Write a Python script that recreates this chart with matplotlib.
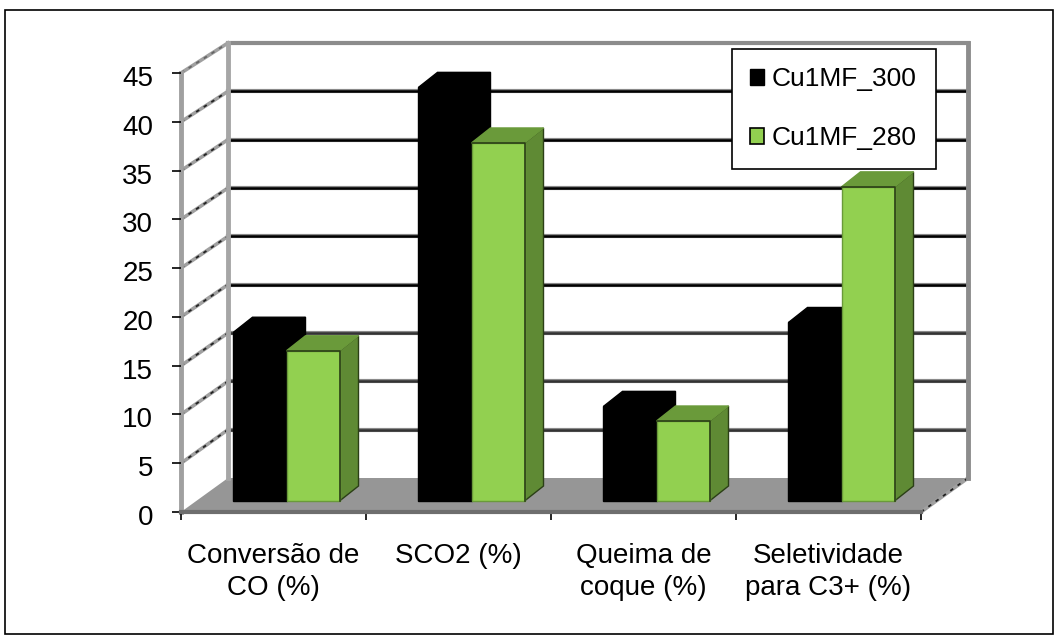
import numpy as np
import matplotlib
matplotlib.use("Agg")
import matplotlib.pyplot as plt
from matplotlib.patches import Polygon, Rectangle, Patch
from matplotlib.transforms import Affine2D, IdentityTransform

plt.rcParams['font.family'] = ['Liberation Sans', 'DejaVu Sans']

categories = ['Conversão de\nCO (%)', 'SCO2 (%)', 'Queima de\ncoque (%)', 'Seletividade\npara C3+ (%)']
series_names = ['Cu1MF_300', 'Cu1MF_280']
cu1mf_300 = [17.3, 42.4, 9.7, 18.3]
cu1mf_280 = [15.4, 36.7, 8.2, 32.2]
y_ticks = [0, 5, 10, 15, 20, 25, 30, 35, 40, 45]

W, H = 1059, 644
WALL = (47, 34)         # pixel shift of back wall from front plane
WALL_SCALE = 0.991      # back wall is a little shorter than the front plane
BAR_FRONT = (13, 11)
BAR_BACK = (32, 26)
BAR_W = 0.2865

GREEN = '#92D050'
GREEN_TOP = '#6A9A3A'
GREEN_SIDE = '#5F8A34'
GREEN_EDGE = '#2B3F16'
GRAY = '#969696'

fig = plt.figure(figsize=(W / 100, H / 100), dpi=100)
fig.add_artist(Rectangle((5 / W, 1 - 634 / H), 1048 / W, 624 / H, fill=False, ec='black', lw=1.2))

ax = fig.add_axes([181 / W, 1 - 512 / H, 740 / W, 439 / H])
ax.set_xlim(0, 4)
ax.set_ylim(0, 45)
ax.set_autoscale_on(False)
ax.patch.set_visible(False)
for s in ['top', 'right', 'left', 'bottom']:
    ax.spines[s].set_visible(False)


def shift(off):
    return ax.transData + Affine2D().translate(*off)


def px(x, y, off=(0, 0)):
    return ax.transData.transform((x, y)) + np.array(off)


def face(points, **kw):
    ax.add_patch(Polygon(points, closed=True, transform=IdentityTransform(), clip_on=False, **kw))


def slant(x, v, dashed_color='#222222'):
    a = ax.transData.transform((x, v))
    b = wall.transform((x, v))
    ax.plot([a[0], b[0]], [a[1], b[1]], color='#a0a0a0', lw=2.6, transform=IdentityTransform(),
            clip_on=False, zorder=1)
    ax.plot([a[0], b[0]], [a[1], b[1]], color=dashed_color, lw=1.3, ls=(0, (2, 3)),
            transform=IdentityTransform(), clip_on=False, zorder=1.1)


y0 = ax.transData.transform((0, 0))[1]
wall = ax.transData + Affine2D().translate(0, -y0).scale(1, WALL_SCALE).translate(WALL[0], y0 + WALL[1])

# floor
face([px(0, 0), px(4, 0), px(4, 0, WALL), px(0, 0, WALL)], fc=GRAY, ec='none', zorder=1)

# back wall grid
for v in y_ticks[1:-1]:
    col = '#333333' if v <= 15 else 'black'
    ax.plot([0, 4], [v, v], color='#8a8a8a', lw=3, transform=wall, clip_on=False, zorder=1)
    ax.plot([0, 4], [v, v], color=col, lw=1.8, transform=wall, clip_on=False, zorder=1.1)
ax.plot([0, 4], [45, 45], color='#8c8c8c', lw=3, transform=wall, clip_on=False, zorder=1)
ax.plot([0, 0], [0, 45], color='#a6a6a6', lw=3.5, transform=wall, clip_on=False, zorder=1.2)
ax.plot([4, 4], [0, 45], color='#8c8c8c', lw=3.5, transform=wall, clip_on=False, zorder=1.2)

# side wall
ax.plot([0, 0], [0, 45], color='#a0a0a0', lw=3.5, clip_on=False, zorder=1.2)
for v in y_ticks[1:-1]:
    slant(0, v)
slant(0, 45, dashed_color='#666666')
slant(4, 0)

# front edge of the floor
ax.plot([0, 4], [0, 0], color='#6e6e6e', lw=3, clip_on=False, zorder=2)

# bars
xs = np.arange(len(categories)) + 0.5
for i, x in enumerate(xs):
    for j, (vals, fc, top, side, edge) in enumerate([
        (cu1mf_300, 'black', 'black', 'black', 'black'),
        (cu1mf_280, GREEN, GREEN_TOP, GREEN_SIDE, GREEN_EDGE),
    ]):
        x0 = x - BAR_W + j * BAR_W
        x1 = x0 + BAR_W
        v = vals[i]
        z = 3 + j
        face([px(x1, 0, BAR_FRONT), px(x1, 0, BAR_BACK), px(x1, v, BAR_BACK), px(x1, v, BAR_FRONT)],
             fc=side, ec=edge, lw=1, zorder=z)
        face([px(x0, v, BAR_FRONT), px(x1, v, BAR_FRONT), px(x1, v, BAR_BACK), px(x0, v, BAR_BACK)],
             fc=top, ec=edge if not j else GREEN_TOP, lw=1, zorder=z)
        ax.bar(x0, v, BAR_W, align='edge', color=fc, ec=GREEN_TOP if j else 'black', lw=1,
               transform=shift(BAR_FRONT), clip_on=False, zorder=z + 0.5)
        if j:
            # dark top and right edge of the green front face
            ax.plot([x0, x1, x1], [v, v, 0], color=GREEN_EDGE, lw=1.2, transform=shift(BAR_FRONT),
                    clip_on=False, zorder=z + 0.6)

# ticks
ax.set_yticks(y_ticks)
ax.set_xticks(range(5))
ax.set_xticks(xs, minor=True)
ax.set_xticklabels([])
ax.set_xticklabels(categories, minor=True, fontsize=20, linespacing=1.3)
ax.tick_params(axis='y', labelsize=20, length=6.5, width=1.2, pad=13.5)
ax.tick_params(axis='x', which='major', length=6, width=1.2)
ax.tick_params(axis='x', which='minor', length=0, pad=22)
for lab in ax.get_yticklabels():
    lab.set_transform(lab.get_transform() + Affine2D().translate(0, -3))

# legend
handles = [Patch(fc='black', ec='black'), Patch(fc=GREEN, ec='black', lw=1.2)]
leg = ax.legend(handles, series_names, loc='upper left', bbox_to_anchor=(732 / W, 1 - 49 / H),
                bbox_transform=fig.transFigure, fontsize=19, fancybox=False, framealpha=1,
                edgecolor='black', handlelength=0.52, handleheight=0.52, handletextpad=0.3,
                labelspacing=1.32, borderpad=0.7, borderaxespad=0)
leg.set_zorder(10)
leg.get_frame().set_linewidth(1.2)

fig.savefig('out.png', dpi=100)
